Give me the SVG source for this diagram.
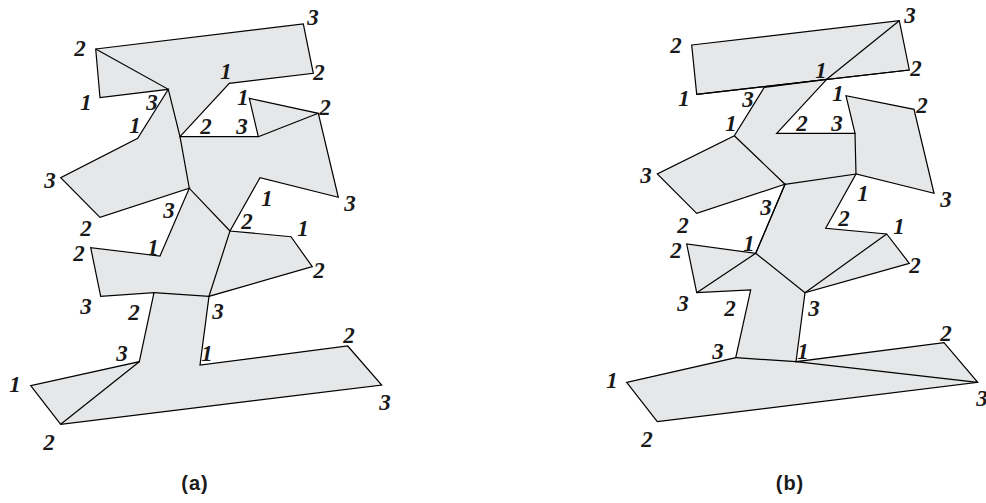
<svg xmlns="http://www.w3.org/2000/svg" width="986" height="503" viewBox="0 0 986 503">
<style>
.sh{fill:#e6e7e8;stroke:#000;stroke-width:1.2;stroke-linejoin:miter}
.ln{fill:none;stroke:#000;stroke-width:1.2}
.n{font-family:"Liberation Serif","Times New Roman",serif;font-weight:bold;font-style:italic;font-size:23px;text-anchor:middle;fill:#1a1a1a}
.cap{font-family:"Liberation Sans",Arial,sans-serif;font-weight:bold;font-size:20px;letter-spacing:1px;text-anchor:middle;fill:#1a1a1a}
</style>
<rect width="986" height="503" fill="#fff"/>
<g id="figure-a">
<polygon class="sh" points="95.7,49 303.3,24 313.3,73.3 229.3,83.3 180,136.7 258.3,136.7 249.3,98.3 318.3,113.3 338.3,197.3 260,177.7 230,231 291,236.7 312.3,266.7 209,296.3 200,365 347.7,346 381.7,385 60.7,424.3 30.7,385.7 139.3,361.7 154,292.7 100.7,296.3 90.7,247.7 160,256 189.3,188.3 100,217.3 60.7,177.7 137.7,138.3 168.3,89.3 100,97.7"/>
<g id="a-lines">
<polyline class="ln" points="95.7,49 168.3,89.3 180,136.7 189.3,188.3 230,231 209,296.3 154,292.7"/>
<line class="ln" x1="258.3" y1="136.7" x2="318.3" y2="113.3"/>
<line class="ln" x1="139.3" y1="361.7" x2="60.7" y2="424.3"/>
</g>
<g id="a-labels">
<text class="n" x="80" y="56">2</text>
<text class="n" x="313" y="25">3</text>
<text class="n" x="319" y="80">2</text>
<text class="n" x="226" y="79">1</text>
<text class="n" x="86" y="110">1</text>
<text class="n" x="152" y="110">3</text>
<text class="n" x="243" y="105">1</text>
<text class="n" x="325" y="115">2</text>
<text class="n" x="135" y="133">1</text>
<text class="n" x="206" y="134">2</text>
<text class="n" x="242" y="134">3</text>
<text class="n" x="50" y="188">3</text>
<text class="n" x="350" y="211">3</text>
<text class="n" x="267" y="206">1</text>
<text class="n" x="169" y="218">3</text>
<text class="n" x="247" y="229">2</text>
<text class="n" x="303" y="236">1</text>
<text class="n" x="86" y="236">2</text>
<text class="n" x="153" y="255">1</text>
<text class="n" x="79" y="261">2</text>
<text class="n" x="319" y="278">2</text>
<text class="n" x="86" y="314">3</text>
<text class="n" x="134" y="320">2</text>
<text class="n" x="218" y="319">3</text>
<text class="n" x="122" y="361">3</text>
<text class="n" x="207" y="361">1</text>
<text class="n" x="349" y="343">2</text>
<text class="n" x="15" y="392">1</text>
<text class="n" x="385" y="410">3</text>
<text class="n" x="49" y="450">2</text>
</g>
<text class="cap" x="195" y="490">(a)</text>
</g>
<g id="figure-b">
<polygon class="sh" points="691.7,45 899.3,20.7 909.3,70 696.7,94.3"/>
<polygon class="sh" points="826.7,79.3 776.7,133.3 855,133.3 846,95.7 914,109.3 934,193.3 856,174 825.7,228.3 886.7,234 909.3,263.3 805,292.7 796,361.7 944,342.7 977.7,382.3 657.3,421.7 626.7,382.3 735.7,357.7 750.7,290 696.7,292.7 686.7,244 755.7,253.3 785,184.3 696.7,213.3 657.3,174 734.3,135.7 764.3,87.3"/>
<g id="b-lines">
<line class="ln" x1="696.7" y1="94.3" x2="909.3" y2="70"/>
<line class="ln" x1="899.3" y1="20.7" x2="826.7" y2="79.3"/>
<polyline class="ln" points="734.3,135.7 785,184.3 856,174 855,133.3"/>
<line class="ln" x1="785" y1="184.3" x2="755.7" y2="253.3"/>
<polyline class="ln" points="696.7,292.7 755.7,253.3 805,292.7 886.7,234"/>
<polyline class="ln" points="735.7,357.7 796,361.7 977.7,382.3"/>
</g>
<g id="b-labels">
<text class="n" x="676" y="53">2</text>
<text class="n" x="910" y="23">3</text>
<text class="n" x="916" y="76">2</text>
<text class="n" x="821" y="78">1</text>
<text class="n" x="684" y="106">1</text>
<text class="n" x="748" y="107">3</text>
<text class="n" x="838" y="101">1</text>
<text class="n" x="922" y="113">2</text>
<text class="n" x="731" y="131">1</text>
<text class="n" x="802" y="131">2</text>
<text class="n" x="837" y="131">3</text>
<text class="n" x="646" y="183">3</text>
<text class="n" x="946" y="207">3</text>
<text class="n" x="863" y="201">1</text>
<text class="n" x="766" y="215">3</text>
<text class="n" x="844" y="226">2</text>
<text class="n" x="899" y="234">1</text>
<text class="n" x="683" y="233">2</text>
<text class="n" x="749" y="251">1</text>
<text class="n" x="676" y="258">2</text>
<text class="n" x="915" y="273">2</text>
<text class="n" x="683" y="311">3</text>
<text class="n" x="730" y="316">2</text>
<text class="n" x="814" y="316">3</text>
<text class="n" x="718" y="359">3</text>
<text class="n" x="803" y="359">1</text>
<text class="n" x="946" y="341">2</text>
<text class="n" x="612" y="388">1</text>
<text class="n" x="982" y="406">3</text>
<text class="n" x="647" y="447">2</text>
</g>
<text class="cap" x="790" y="490">(b)</text>
</g>
</svg>
